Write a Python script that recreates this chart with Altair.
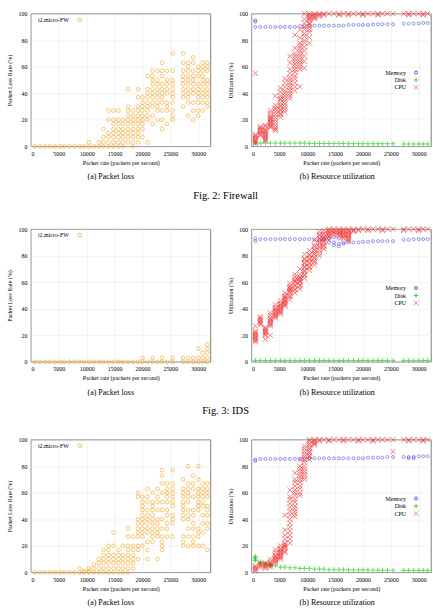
import altair as alt
import pandas as pd

# Offered packet rate (packets per second) of each measurement column
RATE = [700, 1600, 2500, 3400, 4300, 5200, 6000, 6900, 7800, 8700, 9500,
        10400, 11300, 12200, 13000, 13900, 14800, 15700, 16500, 17400,
        18300, 19200, 20000, 20900, 21800, 22700, 23500, 24400, 25400,
        27300, 28200, 29100, 30000, 30800, 31600]

# ---- Fig. 2: Firewall ----
FW_LOSS = [[0], [0], [0], [0], [0], [0], [0], [0], [0], [0], [0],
           [0, 3], [0], [0, 3], [0, 3, 7, 13], [0, 3, 7, 10, 20, 27],
           [0, 3, 7, 10, 13, 17, 20, 27], [0, 3, 7, 10, 13, 17, 20, 27],
           [0, 3, 7, 10, 13, 17, 20], [3, 7, 10, 13, 17, 20, 23, 27, 30, 43],
           [0, 3, 7, 10, 13, 17, 20, 23, 27],
           [3, 7, 10, 13, 17, 20, 23, 27, 30, 37, 43],
           [7, 13, 17, 20, 23, 27, 30, 33, 37],
           [3, 20, 23, 27, 30, 33, 37, 40, 43, 53],
           [17, 23, 30, 33, 37, 40, 43, 47, 50, 53, 57],
           [20, 27, 30, 33, 37, 40, 43, 47, 50, 57],
           [13, 20, 27, 33, 37, 40, 43, 47, 53, 57, 63],
           [17, 27, 30, 33, 40, 43, 47, 50, 57],
           [20, 23, 27, 33, 37, 40, 43, 47, 50, 57, 70],
           [30, 37, 40, 43, 47, 50, 53, 57, 63, 70],
           [23, 33, 37, 40, 43, 47, 50, 53, 57, 60, 63],
           [20, 27, 33, 40, 43, 47, 50, 53, 57, 63, 67],
           [23, 27, 33, 37, 40, 43, 47, 53, 57, 60],
           [27, 33, 37, 40, 43, 47, 50, 53, 57, 60, 63],
           [30, 33, 37, 40, 43, 47, 50, 57, 60, 63]]
FW_MEM = [[90, 94, 95], [90], [90], [90], [90], [90], [90], [90], [90],
          [90.5], [90.5], [91], [91], [91], [91], [91], [91], [91], [91],
          [91.5], [91.5], [91.5], [91.5], [91.5], [92], [92], [92], [92],
          [92], [92.5], [92.5], [92.5], [92.5], [93], [93]]
FW_DISK = [[2.5], [2.5], [2.5], [2.5], [2.5], [2.5], [2.5], [2.5], [2.5],
           [2.5], [2.5], [2.2], [2.2], [2.2], [2.2], [2.2], [2.2], [2.2],
           [2.2], [2], [2], [2], [2], [2], [2], [2], [2], [2], [2], [1.8],
           [1.8], [1.8], [1.8], [1.8], [1.8]]
FW_CPU = [[2, 3, 4, 5, 6, 7, 8, 9, 55],
          [8, 9, 10, 11, 12, 13, 14, 15],
          [4, 5, 6, 7, 8, 9, 10, 11, 12, 13, 15, 16],
          [14, 15, 16, 17, 18, 19, 20, 21, 22, 23, 25, 27],
          [12, 13, 14, 16, 18, 20, 22, 24, 26, 28, 29, 31, 38],
          [22, 24, 25, 27, 28, 30, 31, 33, 35, 36, 38, 41, 44],
          [26, 28, 30, 32, 34, 36, 38, 40, 42, 45, 48, 51],
          [36, 38, 40, 42, 44, 46, 48, 50, 52, 55, 58, 63, 68],
          [42, 45, 48, 51, 53, 56, 58, 60, 62, 64, 66, 68, 70, 74, 84],
          [45, 58, 60, 62, 64, 66, 68, 70, 72, 74, 76, 78, 82, 88],
          [59, 64, 68, 72, 75, 78, 80, 83, 85, 88, 90, 93, 96, 100],
          [78, 82, 86, 88, 90, 92, 93, 95, 96, 97, 98, 99, 100],
          [96, 97, 98, 99, 100], [98, 99, 100], [99, 100], [100], [100],
          [99, 100], [100], [99, 100], [100], [100], [99, 100], [100],
          [100], [99, 100], [100], [100], [100], [100], [99, 100], [100],
          [100], [99, 100], [100]]

# ---- Fig. 3: IDS ----
IDS_LOSS = [[0], [0], [0], [0], [0], [0], [0], [0], [0], [0], [0], [0],
            [0], [0], [0], [0], [0], [0], [0], [0], [0], [0], [0, 3], [0],
            [0, 3], [0], [0, 3], [0], [0, 3], [0, 3], [0, 3], [0, 3],
            [0, 3, 10], [0, 3, 7], [0, 3, 7, 10, 13]]
IDS_MEM = [[91, 93], [92.5], [92.5], [92.5], [92.5], [92.5], [92.5],
           [92.5], [92.5], [92.5], [92.5], [92.5], [92], [92], [92, 93],
           [90, 93], [88, 90, 94], [87, 89, 93], [89, 90], [90], [90],
           [90], [90.5], [90.5], [91], [91], [91], [91], [91], [92],
           [92], [92.5], [92.5], [92.5], [92.5]]
IDS_DISK = [[1]] * 35
IDS_CPU = [[15, 16, 17, 18, 19, 20, 21, 22, 23, 27],
           [28, 29, 30, 31, 32, 33, 34],
           [17, 20, 21, 22, 23, 24, 25, 26],
           [20, 27, 28, 29, 30, 31, 32, 33, 35, 37],
           [33, 34, 35, 36, 37, 38, 39, 40, 41, 43],
           [36, 37, 38, 39, 40, 41, 42, 43, 44, 46],
           [42, 43, 44, 45, 46, 47, 48, 49, 50, 52],
           [47, 49, 50, 52, 53, 54, 55, 56, 57, 59],
           [52, 54, 55, 57, 58, 60, 61, 62, 64, 66],
           [55, 57, 58, 60, 61, 62, 63, 64, 66, 70],
           [63, 65, 66, 68, 69, 71, 72, 74, 75, 77, 78, 81],
           [69, 71, 72, 74, 75, 77, 78, 80, 81, 84],
           [73, 75, 76, 78, 79, 81, 82, 84, 85, 87, 88, 92],
           [80, 82, 84, 86, 87, 89, 90, 92, 93, 95, 96, 98],
           [85, 87, 88, 90, 91, 93, 94, 96, 97, 99],
           [92, 94, 95, 96, 97, 98, 99, 100],
           [96, 97, 98, 99, 100],
           [95, 96, 97, 98, 99, 100],
           [93, 94, 95, 96, 97, 98, 99, 100],
           [91, 92, 93, 94, 95, 96, 97, 98, 99, 100],
           [98, 99, 100], [99, 100], [100], [99, 100], [100], [100],
           [99, 100], [100], [100], [99, 100], [100], [100], [99, 100],
           [100], [100]]

# ---- third deployment ----
WEB_LOSS = [[0], [0], [0], [0], [0], [0], [0], [0], [0], [0, 3], [0, 1],
            [0, 1, 3], [0, 3, 6], [0, 3, 7, 10], [0, 3, 7, 10, 13, 17],
            [0, 3, 7, 10, 13, 17, 20], [0, 3, 7, 10, 13, 20, 30],
            [0, 3, 7, 10, 13, 17], [0, 3, 7, 10, 13, 20],
            [0, 3, 7, 10, 13, 17, 20, 27, 33], [3, 7, 10, 13, 17, 20, 27],
            [10, 17, 20, 27, 30, 33, 37, 40, 57, 60],
            [20, 27, 30, 33, 37, 40, 43, 47, 50, 53, 57],
            [10, 17, 23, 30, 33, 37, 40, 43, 47, 53, 57, 63],
            [23, 27, 30, 33, 37, 40, 43, 47, 50, 53, 60],
            [10, 27, 30, 33, 37, 40, 47, 53, 57, 63],
            [17, 20, 23, 27, 33, 40, 47, 53, 60, 67, 73, 77],
            [27, 33, 37, 43, 47, 53, 57, 60, 63, 67],
            [27, 37, 40, 43, 50, 53, 57, 60, 63, 67, 77],
            [20, 23, 27, 40, 43, 47, 50, 53, 57, 60, 63, 70],
            [20, 27, 33, 40, 43, 47, 53, 57, 60, 63, 67, 80],
            [20, 23, 27, 33, 37, 43, 47, 57, 63, 67, 73],
            [20, 27, 30, 33, 47, 50, 53, 57, 60, 63, 70, 80],
            [20, 30, 37, 43, 50, 53, 57, 60, 63, 67],
            [17, 33, 37, 43, 47, 50, 57, 60, 63, 67]]
WEB_MEM = [[84, 85], [85.5], [85.5], [85.5], [85.5], [85.5], [85.5],
           [85.5], [85.5], [85.5], [85.5], [86], [86], [86], [86], [86],
           [86], [86], [86], [86], [86], [86], [86], [86.5], [86.5],
           [86.5], [86.5], [87], [87], [87], [86, 87], [86, 87], [87.5],
           [87.5], [87.5]]
WEB_DISK = [[9, 10, 11, 12], [7, 8], [6, 7], [5, 6], [5], [4], [4], [3.5],
            [3.5], [3], [3], [3], [2.5], [2.5], [2.5], [2], [2], [2], [2],
            [1.8], [1.8], [1.8], [1.8], [1.8], [1.7], [1.7], [1.7], [1.6],
            [1.6], [1.5], [1.5], [1.5], [1.5], [1.5], [1.5]]
WEB_CPU = [[1, 2, 3, 4, 5], [4, 5, 6, 7], [3, 4, 5, 6, 7],
           [4, 5, 6, 7, 8, 10],
           [7, 8, 9, 10, 11, 12, 13, 15, 17],
           [10, 11, 12, 13, 14, 15, 16, 17, 18, 20],
           [15, 16, 18, 19, 20, 21, 22, 25, 28, 32, 43],
           [22, 25, 28, 31, 34, 37, 40, 43, 46, 49, 52, 55, 57, 62],
           [42, 44, 46, 48, 50, 53, 55, 58, 60, 62, 65, 68, 70, 75],
           [58, 60, 63, 65, 68, 70, 72, 74, 76, 78, 80, 85],
           [70, 72, 74, 76, 78, 80, 83, 85, 87, 89, 91, 93, 95],
           [85, 87, 88, 90, 91, 93, 94, 96, 97, 99, 100],
           [96, 97, 98, 99, 100], [99, 100], [100], [99, 100], [100],
           [100], [99, 100], [100], [100], [99, 100], [100], [100],
           [99, 100], [100], [100], [100], [91, 100], [100], [99, 100],
           [100], [100], [99, 100], [100]]

FONT = "Liberation Serif"
W, H = 180, 133
X_MAX = 32200

ORANGE = "#f2a21e"
BLUE = "#2a2ad8"
GREEN = "#1fcc1f"
RED = "#ec1010"
PLUS = "M-1,0L1,0M0,-1L0,1"
TIMES = "M-1,-1L1,1M-1,1L1,-1"


def table(columns):
    rows = [(r, v) for r, vals in zip(RATE, columns) for v in vals]
    return pd.DataFrame(rows, columns=["rate", "value"])


def x_enc():
    return alt.X("rate:Q", scale=alt.Scale(domain=[0, X_MAX], nice=False),
                 axis=alt.Axis(values=list(range(0, 30001, 5000)), format="d",
                               title="Packet rate (packets per second)"))


def y_enc(title):
    return alt.Y("value:Q", scale=alt.Scale(domain=[0, 100], nice=False),
                 axis=alt.Axis(values=list(range(0, 101, 20)), title=title))


def text_at(label, x, y, align):
    return alt.Chart(pd.DataFrame({"t": [label]})).mark_text(
        font=FONT, fontSize=6, align=align, baseline="middle", color="#000"
    ).encode(x=alt.value(x), y=alt.value(y), text="t:N")


def marker_at(x, y, shape, color, size, opacity=1.0):
    return alt.Chart(pd.DataFrame({"t": [0]})).mark_point(
        shape=shape, filled=False, size=size, color=color, strokeWidth=0.8,
        opacity=opacity
    ).encode(x=alt.value(x), y=alt.value(y))


def caption(text, dx):
    return alt.TitleParams(text, orient="bottom", font=FONT, fontSize=8,
                           fontWeight="normal", color="#000", offset=8,
                           anchor="middle", frame="group", dx=dx)


def loss_panel(columns):
    pts = alt.Chart(table(columns)).mark_point(
        shape="circle", filled=False, size=14, strokeWidth=0.8,
        color=ORANGE, opacity=0.75
    ).encode(x=x_enc(), y=y_enc("Packet Loss Rate (%)"))
    legend = (text_at("t2.micro-FW", 7, 6, "left")
              + marker_at(49, 6, "circle", ORANGE, 14, 0.9))
    return alt.layer(pts, legend).properties(
        width=W, height=H, title=caption("(a) Packet loss", -10))


def util_panel(mem, disk, cpu):
    mem_l = alt.Chart(table(mem)).mark_point(
        shape="circle", filled=False, size=9, strokeWidth=0.7, color=BLUE
    ).encode(x=x_enc(), y=y_enc("Utilization (%)"))
    disk_l = alt.Chart(table(disk)).mark_point(
        shape=PLUS, filled=False, size=24, strokeWidth=1.0, color=GREEN
    ).encode(x=x_enc(), y=y_enc("Utilization (%)"))
    cpu_l = alt.Chart(table(cpu)).mark_point(
        shape=TIMES, filled=False, size=26, strokeWidth=1.0, color=RED,
        opacity=0.55
    ).encode(x=x_enc(), y=y_enc("Utilization (%)"))
    legend = (text_at("Memory", 155, 59, "right")
              + marker_at(165, 59, "circle", BLUE, 9)
              + text_at("Disk", 155, 66.5, "right")
              + marker_at(165, 66.5, PLUS, GREEN, 24)
              + text_at("CPU", 155, 74, "right")
              + marker_at(165, 74, TIMES, RED, 24, 0.6))
    return alt.layer(mem_l, disk_l, cpu_l, legend).properties(
        width=W, height=H, title=caption("(b) Resource utilization", -4))


def fig_title(text):
    return alt.TitleParams(text, orient="bottom", font=FONT, fontSize=10.5,
                           fontWeight="normal", color="#000", offset=9,
                           anchor="middle", dx=6)


row1 = alt.hconcat(loss_panel(FW_LOSS), util_panel(FW_MEM, FW_DISK, FW_CPU),
                   spacing=15).properties(title=fig_title("Fig. 2: Firewall"))
row2 = alt.hconcat(loss_panel(IDS_LOSS),
                   util_panel(IDS_MEM, IDS_DISK, IDS_CPU),
                   spacing=15).properties(title=fig_title("Fig. 3: IDS"))
row3 = alt.hconcat(loss_panel(WEB_LOSS),
                   util_panel(WEB_MEM, WEB_DISK, WEB_CPU), spacing=15)

chart = alt.vconcat(
    alt.vconcat(row1, row2, spacing=23),
    row3, spacing=18
).properties(
    padding={"left": 6, "top": 8, "right": 0, "bottom": 0}
).configure_view(
    stroke="#444", strokeWidth=0.7
).configure_axis(
    labelFont=FONT, labelFontSize=6, labelColor="#000",
    titleFont=FONT, titleFontSize=6, titleFontWeight="normal",
    titleColor="#000", grid=True, gridColor="#e4e4e4", gridWidth=0.5,
    domain=False, ticks=False, labelPadding=4, titlePadding=5
).configure_axisX(titlePadding=3)

chart.save("out.html", embed_options={"renderer": "svg", "actions": False})
